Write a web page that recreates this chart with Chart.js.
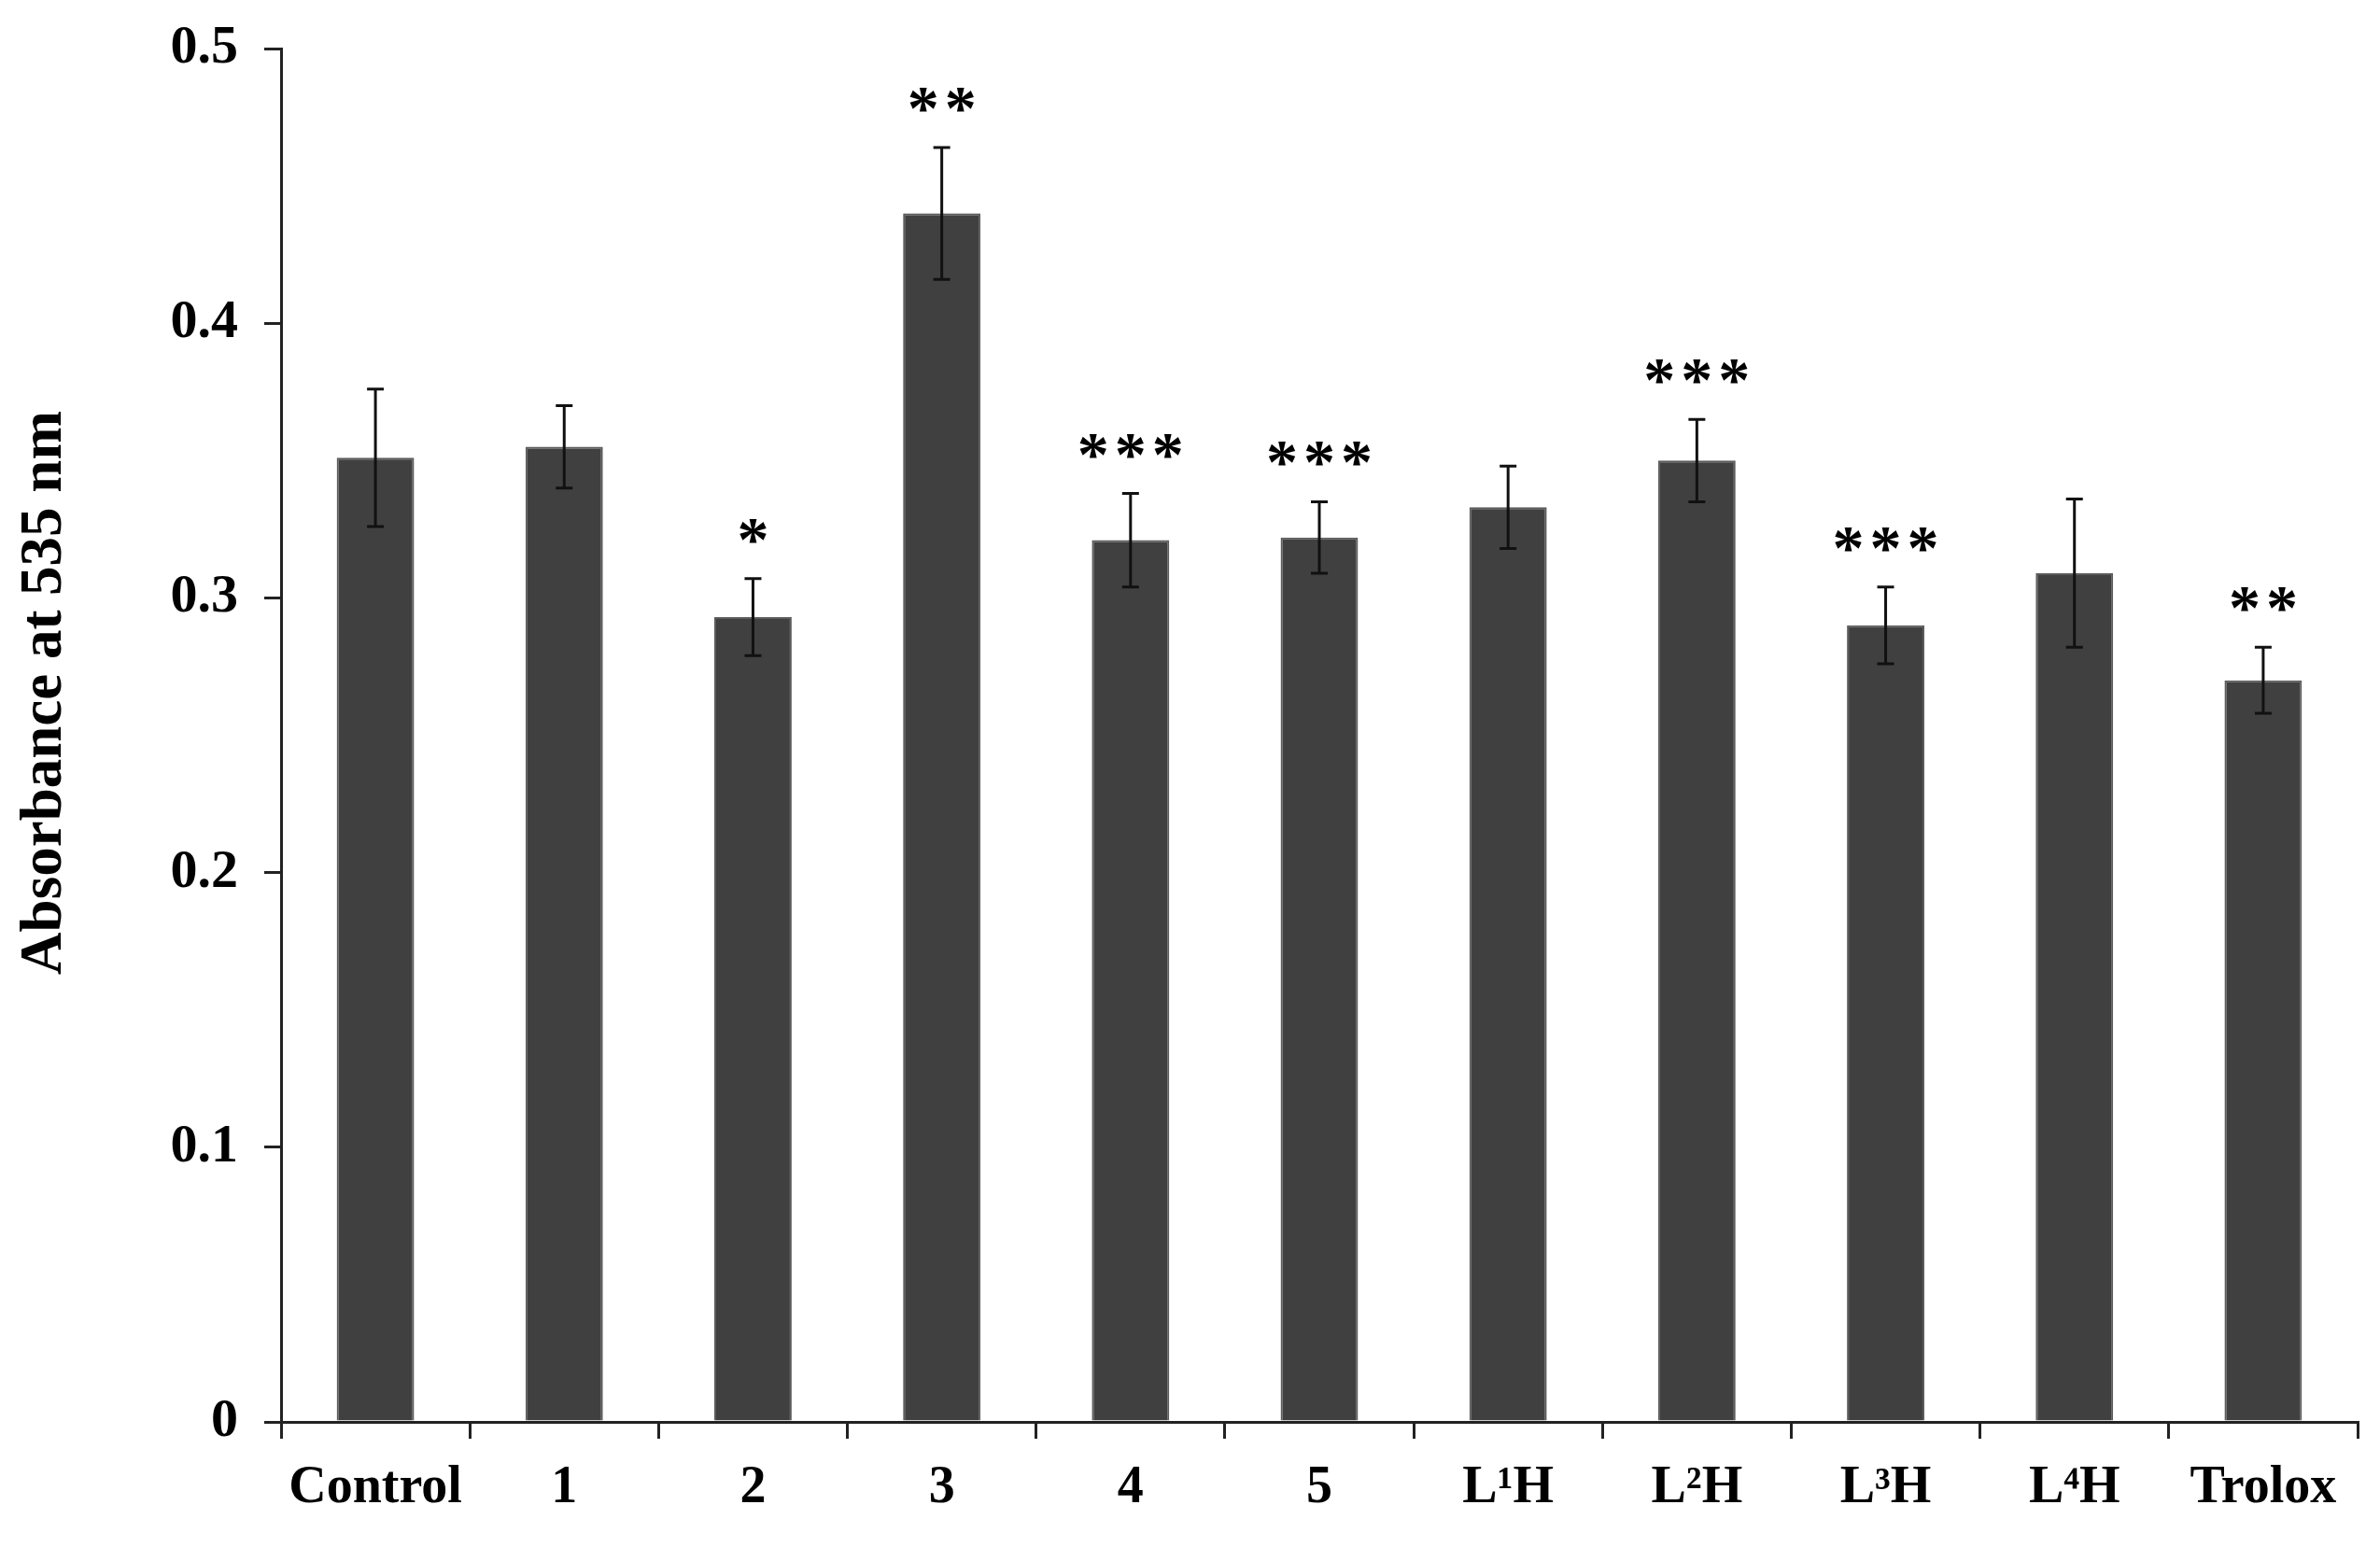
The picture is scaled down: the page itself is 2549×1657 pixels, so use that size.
<!DOCTYPE html>
<html lang="en">
<head>
<meta charset="UTF-8">
<title>Absorbance at 535 nm</title>
<script src="https://cdn.jsdelivr.net/npm/chart.js"></script>
<style>
  html, body { margin: 0; padding: 0; background: #fff; }
  .container { width: 2549px; height: 1657px; }
</style>
</head>
<body>
<div class="container">
  <canvas id="absChart" width="2549" height="1657"></canvas>
</div>
<script>
  const categories = ['Control', '1', '2', '3', '4', '5', 'L¹H', 'L²H', 'L³H', 'L⁴H', 'Trolox'];
  const absorbance = [0.351, 0.355, 0.293, 0.440, 0.321, 0.322, 0.333, 0.350, 0.290, 0.309, 0.270];
  const errors = [0.025, 0.015, 0.014, 0.024, 0.017, 0.013, 0.015, 0.015, 0.014, 0.027, 0.012];
  const significance = ['', '', '*', '**', '***', '***', '', '***', '***', '', '**'];
  const yTicks = [0, 0.1, 0.2, 0.3, 0.4, 0.5];
  const yTitle = 'Absorbance at 535 nm';

  const serif = '"Liberation Serif", "Times New Roman", serif';
  const axisColor = '#222';

  // error bars + significance stars on top of the bars
  const errorBarPlugin = {
    id: 'errorBars',
    afterDatasetsDraw(chart) {
      const ctx = chart.ctx;
      const meta = chart.getDatasetMeta(0);
      const yScale = chart.scales.y;
      ctx.save();
      ctx.strokeStyle = '#111';
      ctx.lineWidth = 3;
      meta.data.forEach((bar, i) => {
        const x = bar.x;
        const yTop = yScale.getPixelForValue(absorbance[i] + errors[i]);
        const yBot = yScale.getPixelForValue(absorbance[i] - errors[i]);
        ctx.beginPath();
        ctx.moveTo(x, yTop); ctx.lineTo(x, yBot);
        ctx.moveTo(x - 9, yTop); ctx.lineTo(x + 9, yTop);
        ctx.moveTo(x - 9, yBot); ctx.lineTo(x + 9, yBot);
        ctx.stroke();

        const stars = significance[i];
        if (stars) {
          ctx.fillStyle = '#000';
          ctx.font = `bold 68px ${serif}`;
          ctx.textAlign = 'center';
          ctx.textBaseline = 'alphabetic';
          const pitch = 40;
          const x0 = x - (stars.length - 1) * pitch / 2;
          for (let k = 0; k < stars.length; k++) {
            ctx.fillText('*', x0 + k * pitch, yTop - 20);
          }
        }
      });
      ctx.restore();
    }
  };

  // y axis title, drawn by hand so it sits a bit above the axis middle like the original
  const yTitlePlugin = {
    id: 'yTitle',
    afterDraw(chart) {
      const ctx = chart.ctx;
      ctx.save();
      ctx.translate(49, 742);
      ctx.rotate(-Math.PI / 2);
      ctx.fillStyle = '#000';
      ctx.font = `bold 63px ${serif}`;
      ctx.textAlign = 'center';
      ctx.textBaseline = 'middle';
      ctx.fillText(yTitle, 0, 0);
      ctx.restore();
    }
  };

  const config = {
    type: 'bar',
    data: {
      labels: categories,
      datasets: [{
        data: absorbance,
        backgroundColor: '#404040',
        borderColor: '#5c5c5c',
        borderWidth: 2,
        barPercentage: 0.41,
        categoryPercentage: 1.0
      }]
    },
    options: {
      responsive: false,
      animation: false,
      layout: { padding: { top: 52, right: 24, left: 0, bottom: 0 } },
      plugins: {
        legend: { display: false },
        tooltip: { enabled: false }
      },
      scales: {
        x: {
          offset: true,
          border: { color: axisColor, width: 3 },
          grid: { offset: true, drawOnChartArea: false, drawTicks: true, tickLength: 18, color: axisColor, lineWidth: 3 },
          ticks: {
            color: '#000',
            padding: 20,
            maxRotation: 0,
            autoSkip: false,
            font: { family: serif, size: 56, weight: 'bold' }
          },
          afterFit: function (scale) {
            scale.height = 134;
            scale.paddingLeft = 0;
            scale.paddingRight = 0;
          }
        },
        y: {
          min: 0,
          max: 0.5,
          afterBuildTicks: function (scale) {
            scale.ticks = yTicks.map(v => ({ value: v }));
          },
          border: { color: axisColor, width: 3 },
          grid: { drawOnChartArea: false, drawTicks: true, tickLength: 18, color: axisColor, lineWidth: 3 },
          ticks: {
            color: '#000',
            padding: 28,
            font: { family: serif, size: 58, weight: 'bold' },
            callback: function (value) {
              return value === 0 ? '0' : value.toFixed(1);
            }
          },
          afterFit: function (scale) {
            scale.width = 301;
            scale.paddingTop = 0;
            scale.paddingBottom = 0;
          }
        }
      }
    },
    plugins: [errorBarPlugin, yTitlePlugin]
  };

  window.onload = function () {
    const ctx = document.getElementById('absChart').getContext('2d');
    window.absChart = new Chart(ctx, config);
  };
</script>
</body>
</html>
